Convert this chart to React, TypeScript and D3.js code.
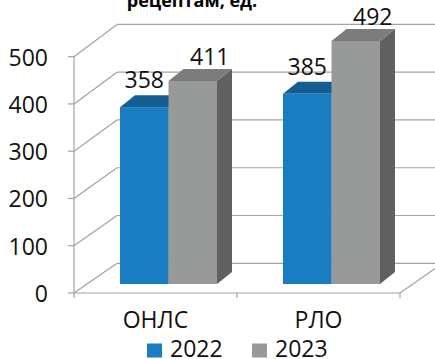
import React from "react";
import * as d3 from "d3";

// Data
const categories = ["ОНЛС", "РЛО"];
const seriesNames = ["2022", "2023"];
const values2022 = [358, 385];
const values2023 = [411, 492];
const yTicks = [0, 100, 200, 300, 400, 500];
const titleText = "рецептам, ед.";

const W = 435;
const H = 359;
const FONT = "'Open Sans', 'DejaVu Sans', sans-serif";

// 3D box geometry
const frontLeft = 74;
const frontRight = 400;
const wallDx = 43;
const wallDy = 30;
const barDx = 15;
const barDy = 12;
const barShift = 13; // bars sit a little behind the front edge

const seriesFront = ["#1a7cc1", "#989a9a"];
const seriesTop = ["#135f92", "#7c7c7c"];
const seriesSide = ["#0f4f7c", "#606060"];
const lineColor = "#a3a3a3";

export default function App() {
  const series = [values2022, values2023];

  const yFront = d3.scaleLinear().domain([0, 500]).range([293, 56.7]);
  const yBack = d3.scaleLinear().domain([0, 500]).range([263.3, 24.4]);
  const yBar = d3.scaleLinear().domain([0, 500]).range([284, 37]);

  const p = 66 / 163;
  const x0 = d3
    .scaleBand<string>()
    .domain(categories)
    .range([frontLeft, frontRight])
    .paddingInner(p)
    .paddingOuter(p / 2);
  const x1 = d3
    .scaleBand<string>()
    .domain(seriesNames)
    .range([0, x0.bandwidth()]);

  const backLeft = frontLeft + wallDx;
  const labelDx = [0, 17];
  const labelGap = [7, 4];

  const catTicks = [frontLeft, ...categories.map((c) => (x0(c) as number) - x0.step() * p / 2 + x0.step())];

  return (
    <svg
      width={W}
      height={H}
      style={{ position: "fixed", left: 0, top: 0, background: "#fff" }}
      fontFamily={FONT}
    >
      <rect width={W} height={H} fill="#fff" />
      {/* Title (its upper part lies above the frame) */}
      <text x={192} y={7} textAnchor="middle" fontSize={18} fontWeight="bold" fill="#000">
        {titleText}
      </text>

      {/* Back wall gridlines and left wall diagonals */}
      {yTicks.map((t) => (
        <g key={"g" + t}>
          <line x1={backLeft} x2={W} y1={yBack(t)} y2={yBack(t)} stroke={lineColor} strokeWidth={1.2} />
          <line x1={frontLeft} y1={yFront(t)} x2={backLeft} y2={yBack(t)} stroke={lineColor} strokeWidth={1.2} />
          <line x1={frontLeft - 6} x2={frontLeft} y1={yFront(t)} y2={yFront(t)} stroke={lineColor} strokeWidth={1.2} />
          <text
            x={48}
            y={yFront(t)}
            textAnchor="end"
            dominantBaseline="central"
            fontSize={23}
            fill="#111"
          >
            {t}
          </text>
        </g>
      ))}

      {/* Front axis and floor */}
      <line x1={frontLeft} x2={frontLeft} y1={yFront(0)} y2={yFront(500)} stroke={lineColor} strokeWidth={1.2} />
      <line x1={frontLeft} x2={frontRight} y1={yFront(0)} y2={yFront(0)} stroke={lineColor} strokeWidth={1.2} />
      <line
        x1={frontRight}
        y1={yFront(0)}
        x2={frontRight + wallDx}
        y2={yFront(0) - wallDy}
        stroke={lineColor}
        strokeWidth={1.2}
      />
      {catTicks.map((x, i) => (
        <line key={"ct" + i} x1={x} x2={x} y1={yFront(0)} y2={yFront(0) + 5} stroke={lineColor} strokeWidth={1.2} />
      ))}

      {/* Bars */}
      {categories.map((c, ci) => (
        <g key={c}>
          {seriesNames.map((s, si) => {
            const v = series[si][ci];
            const x = (x0(c) as number) + barShift + (x1(s) as number);
            const w = x1.bandwidth();
            const yT = yBar(v);
            const yB = yBar(0);
            const top = `${x},${yT} ${x + w},${yT} ${x + w + barDx},${yT - barDy} ${x + barDx},${yT - barDy}`;
            const side = `${x + w},${yT} ${x + w + barDx},${yT - barDy} ${x + w + barDx},${yB - barDy} ${x + w},${yB}`;
            return (
              <g key={s}>
                <polygon points={side} fill={seriesSide[si]} />
                <polygon points={top} fill={seriesTop[si]} />
                <rect x={x} y={yT} width={w} height={yB - yT} fill={seriesFront[si]} />
              </g>
            );
          })}
          {seriesNames.map((s, si) => {
            const v = series[si][ci];
            const x = (x0(c) as number) + barShift + (x1(s) as number);
            const w = x1.bandwidth();
            return (
              <text
                key={"l" + s}
                x={x + w / 2 + labelDx[si]}
                y={yBar(v) - barDy - labelGap[si]}
                textAnchor="middle"
                fontSize={23}
                fill="#111"
              >
                {v}
              </text>
            );
          })}
          <text
            x={(x0(c) as number) + x0.bandwidth() / 2}
            y={328}
            textAnchor="middle"
            fontSize={23}
            fill="#111"
          >
            {c}
          </text>
        </g>
      ))}

      {/* Legend */}
      {seriesNames.map((s, si) => {
        const lx = [147, 252][si];
        return (
          <g key={"lg" + s}>
            <rect x={lx} y={343.5} width={15} height={14} fill={seriesFront[si]} />
            <text x={lx + 23} y={357} fontSize={23} fill="#111">
              {s}
            </text>
          </g>
        );
      })}
    </svg>
  );
}
